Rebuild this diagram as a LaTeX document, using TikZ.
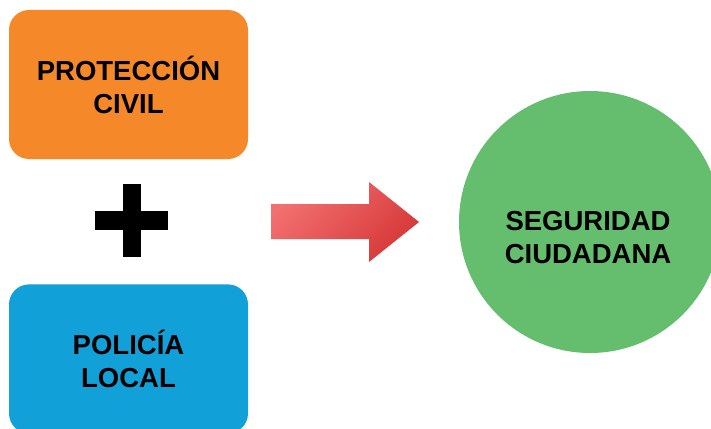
\documentclass[tikz,border=0pt]{standalone}
\usepackage{fontspec}
\setmainfont{Liberation Sans}
\usepackage{xcolor}
\usetikzlibrary{positioning}

\definecolor{naranja}{RGB}{245,137,42}
\definecolor{azul}{RGB}{17,160,216}
\definecolor{verde}{RGB}{101,190,110}
\definecolor{rojoclaro}{RGB}{243,112,112}
\definecolor{rojooscuro}{RGB}{214,56,56}

\begin{document}
\begin{tikzpicture}[x=1pt,y=-1pt,
    caja/.style={rounded corners=20pt,minimum width=239pt,minimum height=149pt,
        align=center,inner sep=0pt},
    texto/.style={align=center,font=\fontsize{27.5}{33}\selectfont\bfseries}]

\useasboundingbox (0,0) rectangle (711,428);
\clip (0,0) rectangle (711,428);

\node[caja,fill=naranja,texto] (PC) at (128.5,84.5) {PROTECCIÓN\\CIVIL};
\node[caja,fill=azul,texto] (PL) [below=125pt of PC] {POLICÍA\\LOCAL};

\node[circle,fill=verde,minimum size=262pt] (SC) at (590,222) {};
\node[texto] (SCt) at ([xshift=-2pt,yshift=-16pt]SC.center) {SEGURIDAD\\ CIUDADANA};

\fill (123,184) rectangle (141,257);
\fill (95,211) rectangle (168,230);

\shade[top color=rojoclaro,bottom color=rojooscuro,shading angle=45]
    (271,204) -- (369,204) -- (369,182) -- (419,222) -- (369,262)
    -- (369,239) -- (271,239) -- cycle;

\end{tikzpicture}
\end{document}
